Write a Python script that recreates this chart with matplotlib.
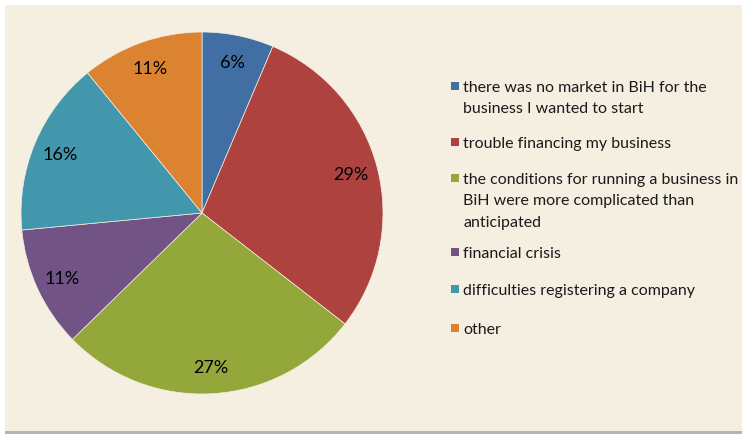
import matplotlib
matplotlib.use('Agg')
import matplotlib.pyplot as plt
from matplotlib.patches import Rectangle

# reasons for giving up on starting a business
labels = ['there was no market in BiH for the\nbusiness I wanted to start',
          'trouble financing my business',
          'the conditions for running a business in\nBiH were more complicated than\nanticipated',
          'financial crisis',
          'difficulties registering a company',
          'other']
shares = [6.4, 29.1, 27.2, 10.8, 15.6, 10.9]
colors = ['#416FA3', '#AE423F', '#93A73B', '#725385', '#4397AC', '#DB8331']

plt.rcParams['font.family'] = ['Lato', 'DejaVu Sans']

W, H = 742, 435
fig = plt.figure(figsize=(W / 100, H / 100), dpi=100)
fig.patch.set_facecolor('white')

# chart area background + bottom shadow, on an axes behind everything
bg = fig.add_axes([0, 0, 1, 1], zorder=-1)
bg.set_xlim(0, W)
bg.set_ylim(H, 0)
bg.axis('off')
bg.add_patch(Rectangle((5, H - 3), W - 5, 3, facecolor='#B4B4B4', edgecolor='none'))
bg.add_patch(Rectangle((5, 6), W - 5, H - 9, facecolor='#F5EFE2', edgecolor='none'))

# legend drawn by hand so the square sits on the first line
legend_y = [87, 143, 179, 253, 290, 329]
for lab, col, y in zip(labels, colors, legend_y):
    bg.add_patch(Rectangle((451, y - 4), 8, 8, facecolor=col, edgecolor='none'))
    bg.text(463, y - 6, lab, fontsize=11.5, va='top', ha='left',
            linespacing=1.68, color='#1a1a1a')

# pie: center (202, 214), radius 181 px
cx, cy, r = 202, 214, 181
ax = fig.add_axes([(cx - r) / W, (H - cy - r) / H, 2 * r / W, 2 * r / H])
ax.set_facecolor('none')
wedges, texts, autotexts = ax.pie(shares, colors=colors, startangle=90, counterclock=False,
                                  autopct='%.0f%%', pctdistance=0.85,
                                  wedgeprops=dict(linewidth=0.5, edgecolor='#F5EFE2'),
                                  textprops=dict(fontsize=13, color='black'))
ax.set_xlim(-1, 1)
ax.set_ylim(-1, 1)
ax.set_aspect('auto')

fig.savefig('out.png', dpi=100, facecolor=fig.get_facecolor())
